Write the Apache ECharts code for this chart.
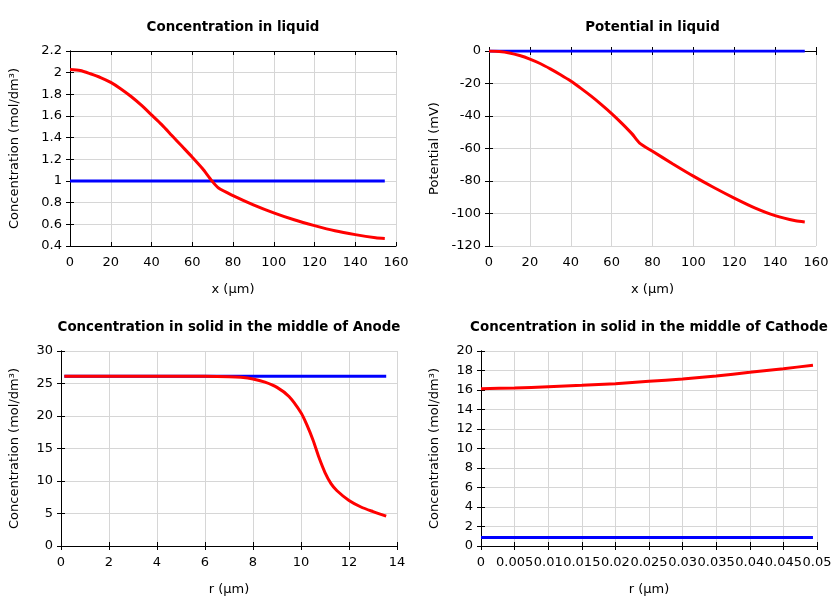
<!DOCTYPE html>
<html><head><meta charset="utf-8">
<script src="https://cdn.jsdelivr.net/npm/echarts@6/dist/echarts.min.js"></script>
<style>html,body{margin:0;padding:0;background:#fff}#c{width:840px;height:600px}</style>
</head><body><div id="c"></div>
<script>
// Chart 1: Concentration in liquid
var liqX = [0,5,10,15,20,25,30,35,40,45,50,55,60,65,69.7,72.9,80,90,100,110,120,130,140,150,154.5];
var liqConc = [2.03,2.02,1.99,1.955,1.91,1.85,1.78,1.70,1.61,1.52,1.42,1.32,1.22,1.115,1.0,0.935,0.865,0.78,0.706,0.642,0.588,0.54,0.505,0.477,0.47];
var liqConcInitX = [0,154.5];
var liqConcInit = [1.0,1.0];
// Chart 2: Potential in liquid
var potX = [0,5,10,15,20,25,30,35,40,45,50,55,60,65,70,73.7,80,90,100,110,120,130,140,150,154.5];
var potVal = [0,-0.3,-1.2,-2.8,-5,-7.7,-11,-14.6,-18.5,-23,-27.8,-33,-38.5,-44.5,-51,-56.7,-61.7,-69.5,-77,-84,-90.5,-96.5,-101.3,-104.5,-105.2];
var potInitX = [0,154.5];
var potInit = [0,0];
// Chart 3: Concentration in solid, Anode
var anR = [0.14,1,2,3,4,5,6,7,7.5,8,8.5,9,9.5,10,10.25,10.5,10.75,11,11.25,11.5,12,12.5,13,13.55];
var anConc = [26.1,26.1,26.1,26.1,26.1,26.1,26.1,26.05,25.95,25.7,25.2,24.4,23.0,20.5,18.6,16.3,13.6,11.3,9.6,8.5,7.0,6.0,5.3,4.6];
var anInitR = [0.14,13.55];
var anInit = [26.1,26.1];
// Chart 4: Concentration in solid, Cathode
var caR = [0,0.005,0.01,0.015,0.02,0.025,0.03,0.035,0.04,0.045,0.0494];
var caConc = [16.14,16.2,16.34,16.48,16.65,16.89,17.13,17.44,17.81,18.19,18.53];
var caInitR = [0,0.0494];
var caInit = [0.88,0.88];

var titles = ['Concentration in liquid','Potential in liquid','Concentration in solid in the middle of Anode','Concentration in solid in the middle of Cathode'];
var xNames = ['x (μm)','x (μm)','r (μm)','r (μm)'];
var yNames = ['Concentration (mol/dm³)','Potential (mV)','Concentration (mol/dm³)','Concentration (mol/dm³)'];

function zip(a,b){return a.map(function(v,i){return [v,b[i]];});}

var FONT = 'DejaVu Sans';
var grids = [
  {left:70, top:51, width:326, height:195},
  {left:489, top:51, width:327, height:195},
  {left:61, top:351, width:336, height:195},
  {left:481, top:351, width:336, height:195}
];
var titleTops = [16,16,316,316];
var xr = [[0,160,20],[0,160,20],[0,14,2],[0,0.05,0.005]];
var yr = [[0.4,2.2,0.2],[-120,0,20],[0,30,5],[0,20,2]];
var yGaps = [49,48,40,40];

var xAxis = [], yAxis = [], title = [], series = [];
grids.forEach(function(g,i){
  title.push({text:titles[i], left:g.left+g.width/2-5, top:titleTops[i], textAlign:'center',
    textStyle:{fontFamily:FONT,fontSize:13.4,fontWeight:'bold',color:'#000'}});
  var common = {gridIndex:i, type:'value', axisLine:{show:true,lineStyle:{color:'#000',width:1}},
    axisTick:{show:true,inside:true,length:4,lineStyle:{color:'#000'}}};
  xAxis.push(Object.assign({}, common, {position:'bottom', min:xr[i][0], max:xr[i][1], interval:xr[i][2],
    name:xNames[i], nameLocation:'middle', nameGap:37,
    nameTextStyle:{fontFamily:FONT,fontSize:13,color:'#000'},
    axisLabel:{fontFamily:FONT,fontSize:13,color:'#000',margin:10},
    splitLine:{show:true,lineStyle:{color:'#d6d6d6',width:1}}}));
  xAxis.push(Object.assign({}, common, {position:'top', min:xr[i][0], max:xr[i][1], interval:xr[i][2],
    axisLabel:{show:false}, splitLine:{show:false}}));
  yAxis.push(Object.assign({}, common, {position:'left', min:yr[i][0], max:yr[i][1], interval:yr[i][2],
    name:yNames[i], nameLocation:'middle', nameGap:yGaps[i],
    nameTextStyle:{fontFamily:FONT,fontSize:13,color:'#000'},
    axisLabel:{fontFamily:FONT,fontSize:13,color:'#000',margin:8},
    splitLine:{show:true,lineStyle:{color:'#d6d6d6',width:1}}}));
  yAxis.push(Object.assign({}, common, {position:'right', min:yr[i][0], max:yr[i][1], interval:yr[i][2],
    axisLabel:{show:false}, splitLine:{show:false}}));
});

var blues = [zip(liqConcInitX,liqConcInit), zip(potInitX,potInit), zip(anInitR,anInit), zip(caInitR,caInit)];
var reds = [zip(liqX,liqConc), zip(potX,potVal), zip(anR,anConc), zip(caR,caConc)];
for (var i=0;i<4;i++){
  series.push({type:'line', xAxisIndex:2*i, yAxisIndex:2*i, data:blues[i], showSymbol:false, symbol:'none',
    lineStyle:{color:'#0000ff',width:3}, z:2, animation:false});
  series.push({type:'line', xAxisIndex:2*i, yAxisIndex:2*i, data:reds[i], showSymbol:false, symbol:'none',
    smooth:0.25,
    lineStyle:{color:'#ff0000',width:3}, z:3, animation:false});
}

var chart = echarts.init(document.getElementById('c'), null, {renderer:'canvas'});
chart.setOption({animation:false, backgroundColor:'#fff', title:title, grid:grids, xAxis:xAxis, yAxis:yAxis, series:series});
</script></body></html>
